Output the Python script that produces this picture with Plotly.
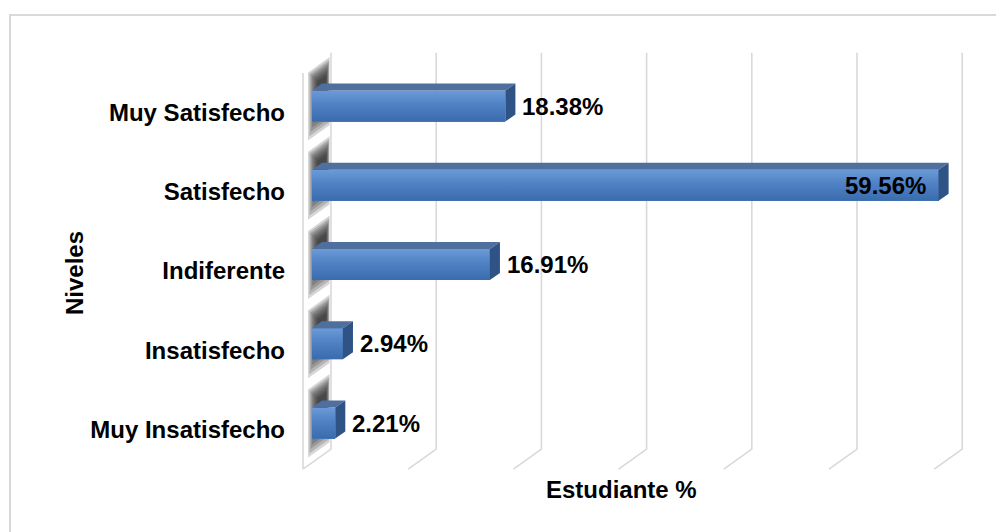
import plotly.graph_objects as go

# Survey results: satisfaction level of students (%)
categories = ["Muy Insatisfecho", "Insatisfecho", "Indiferente", "Satisfecho", "Muy Satisfecho"]
percentages = [2.21, 2.94, 16.91, 59.56, 18.38]
grid_values = [0, 10, 20, 30, 40, 50, 60]

# ---- page / pseudo-3D geometry (pixels) ----
W, H = 996, 532
ML, MR, MT, MB = 290, 10, 40, 60
X0_PX = 303.0          # front plane, value 0
PX_PER_UNIT = 10.52    # pixels per percentage point
C0_PX = 429.5          # front plane, first category centre
PX_PER_CAT = 79.25     # pixels per category
DEPTH_PX = (28.0, 20.0)  # screen shift from front (d=0) to back wall (d=1)

DX = DEPTH_PX[0] / PX_PER_UNIT   # depth shift in value units
DY = DEPTH_PX[1] / PX_PER_CAT    # depth shift in category units
BAR_D0, BAR_D1 = 0.32, 0.68      # bar depth span
HALF = 31.0 / 2 / PX_PER_CAT     # half bar thickness
TOP_C = len(categories) - 0.5
BOT_C = -0.5

plot_w = W - ML - MR
plot_h = H - MT - MB
x_range = [(ML - X0_PX) / PX_PER_UNIT, (W - MR - X0_PX) / PX_PER_UNIT]
y_range = [(C0_PX - (H - MB)) / PX_PER_CAT, (C0_PX - MT) / PX_PER_CAT]


def px_to_paper(px, py):
    return (px - ML) / plot_w, ((H - MB) - py) / plot_h


def proj(v, c, d):
    """Project a point (value, category, depth) onto the front-plane axes."""
    return v + d * DX, c + d * DY


def path(points, close=False):
    s = "M " + " L ".join(f"{x:.4f},{y:.4f}" for x, y in points)
    return s + (" Z" if close else "")


FONT = "Arial, Liberation Sans, sans-serif"
FSIZE = 24
GRID = "#d9d9d9"
fig = go.Figure()
shapes = []

# back-wall gridlines folding down onto the floor
for v in grid_values:
    pts = [proj(v, TOP_C, 1), proj(v, BOT_C, 1), proj(v, BOT_C, 0)]
    shapes.append(dict(type="path", path=path(pts), xref="x", yref="y", layer="below",
                       line=dict(color=GRID, width=1.6)))
# front edge of the side wall
shapes.append(dict(type="path", path=path([proj(0, TOP_C, 0), proj(0, BOT_C, 0)]),
                   xref="x", yref="y", layer="below", line=dict(color=GRID, width=1.6)))

# soft shadows cast by the bars on the side wall
for ci in range(len(categories)):
    layers = 8
    for k in range(layers):
        t = k / (layers - 1)
        d0 = 0.18 + 0.34 * t
        d1 = 0.95 - 0.12 * t
        up = 0.46 - 0.20 * t
        dn = 0.40 - 0.30 * t
        pts = [(0 + d0 * DX, ci + up + d0 * DY), (0 + d1 * DX, ci + up + d1 * DY),
               (0 + d1 * DX, ci - dn + d1 * DY), (0 + d0 * DX, ci - dn + d0 * DY)]
        shapes.append(dict(type="path", path=path(pts, True), xref="x", yref="y",
                           layer="below", line=dict(width=0),
                           fillcolor="rgba(25,25,25,0.18)"))

# bar front faces
bar_y = [ci + BAR_D0 * DY for ci in range(len(categories))]
fig.add_trace(go.Bar(
    x=percentages, y=bar_y, base=BAR_D0 * DX, orientation="h", width=2 * HALF,
    marker=dict(color="#4f81bd", line=dict(width=0)), showlegend=False,
    hovertext=categories, hoverinfo="text+x",
))

for ci, v in enumerate(percentages):
    front = [proj(0, ci - HALF, BAR_D0), proj(v, ci - HALF, BAR_D0),
             proj(v, ci + HALF, BAR_D0), proj(0, ci + HALF, BAR_D0)]
    top = [proj(0, ci + HALF, BAR_D0), proj(v, ci + HALF, BAR_D0),
           proj(v, ci + HALF, BAR_D1), proj(0, ci + HALF, BAR_D1)]
    side = [proj(v, ci - HALF, BAR_D0), proj(v, ci + HALF, BAR_D0),
            proj(v, ci + HALF, BAR_D1), proj(v, ci - HALF, BAR_D1)]
    yb, yt = front[0][1], front[2][1]
    fig.add_trace(go.Scatter(
        x=[p[0] for p in front] + [front[0][0]], y=[p[1] for p in front] + [front[0][1]],
        mode="lines", fill="toself", line=dict(width=0), hoverinfo="skip", showlegend=False,
        fillgradient=dict(type="vertical", start=yb, stop=yt,
                          colorscale=[[0, "#3a6bad"], [0.55, "#4f81c4"], [1, "#6b9ad6"]]),
    ))
    fig.add_trace(go.Scatter(
        x=[p[0] for p in top] + [top[0][0]], y=[p[1] for p in top] + [top[0][1]],
        mode="lines", fill="toself", fillcolor="#4f6f9f", line=dict(width=0),
        hoverinfo="skip", showlegend=False,
    ))
    fig.add_trace(go.Scatter(
        x=[p[0] for p in side] + [side[0][0]], y=[p[1] for p in side] + [side[0][1]],
        mode="lines", fill="toself", fillcolor="#2f5385", line=dict(width=0),
        hoverinfo="skip", showlegend=False,
    ))

# value labels
annotations = []
x_max_fit = x_range[1] - 9
for ci, v in enumerate(percentages):
    label = f"<b>{v:.2f}%</b>"
    cy = ci + BAR_D0 * DY
    if v + BAR_D1 * DX < x_max_fit:
        annotations.append(dict(x=v + BAR_D1 * DX, y=cy, xref="x", yref="y", text=label,
                                showarrow=False, xanchor="left", yanchor="middle", xshift=5,
                                font=dict(family=FONT, size=FSIZE, color="black")))
    else:
        annotations.append(dict(x=v + BAR_D0 * DX, y=cy, xref="x", yref="y", text=label,
                                showarrow=False, xanchor="right", yanchor="middle", xshift=-11,
                                font=dict(family=FONT, size=FSIZE, color="black")))

# axis titles
tx, ty = px_to_paper(621, 489)
annotations.append(dict(x=tx, y=ty, xref="paper", yref="paper", text="<b>Estudiante %</b>",
                        showarrow=False, xanchor="center", yanchor="middle",
                        font=dict(family=FONT, size=FSIZE, color="black")))
nx, ny = px_to_paper(74, 273)
annotations.append(dict(x=nx, y=ny, xref="paper", yref="paper", text="<b>Niveles</b>",
                        showarrow=False, xanchor="center", yanchor="middle", textangle=-90,
                        font=dict(family=FONT, size=FSIZE, color="black")))

# chart-area border
bx0, by0 = px_to_paper(10, 15)
bx1, by1 = px_to_paper(W + 20, H + 20)
shapes.append(dict(type="rect", xref="paper", yref="paper", x0=bx0, y0=by1, x1=bx1, y1=by0,
                   line=dict(color="#d9d9d9", width=2), layer="below"))

fig.update_layout(
    width=W, height=H,
    margin=dict(l=ML, r=MR, t=MT, b=MB),
    paper_bgcolor="white", plot_bgcolor="white",
    shapes=shapes, annotations=annotations,
    xaxis=dict(range=x_range, showgrid=False, zeroline=False, showticklabels=False,
               showline=False, ticks="", fixedrange=True),
    yaxis=dict(range=y_range, showgrid=False, zeroline=False, showline=False, ticks="",
               tickvals=list(range(len(categories))),
               ticktext=[f"<b>{c}</b>" for c in categories],
               tickfont=dict(family=FONT, size=FSIZE, color="black"),
               ticklabelstandoff=4, fixedrange=True),
    bargap=0, showlegend=False,
)

fig.write_html("out.html")
